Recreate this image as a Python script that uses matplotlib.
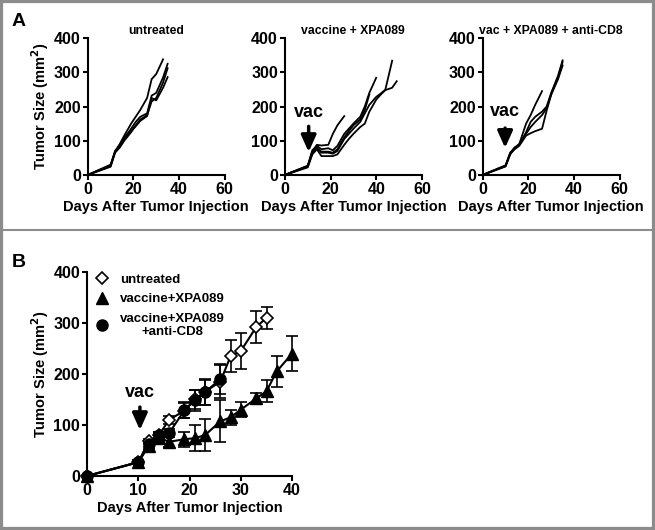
"""Tumor growth curves: individual mice (A) and group means (B)."""

import matplotlib
matplotlib.use("Agg")
import matplotlib.pyplot as plt
from matplotlib.lines import Line2D
from matplotlib.patches import Rectangle

plt.rcParams["font.family"] = ["Liberation Sans", "DejaVu Sans"]
plt.rcParams["font.weight"] = "bold"
plt.rcParams["axes.labelweight"] = "bold"
plt.rcParams["mathtext.default"] = "bf"

# ---- panel A: individual mice ----
days_33 = [0, 10, 12, 14, 16, 19, 21, 23, 26, 28, 30, 33]
days_35 = [0, 10, 12, 14, 16, 19, 21, 23, 26, 28, 30, 33, 35]
days_26 = [0, 10, 12, 14, 16, 19, 21, 23, 26]
days_37 = [0, 10, 12, 14, 16, 19, 21, 23, 26, 28, 30, 33, 35, 37]
days_40 = [0, 10, 12, 14, 16, 19, 21, 23, 26, 28, 30, 33, 35, 37, 40]
days_47 = [0, 10, 12, 14, 16, 19, 21, 23, 26, 28, 30, 33, 35, 37, 40, 42, 44, 47]
days_49 = [0, 10, 12, 14, 16, 19, 21, 23, 26, 28, 30, 33, 35, 37, 40, 42, 44, 47, 49]

untreated_m1 = [0, 25, 70, 90, 115, 150, 170, 190, 225, 280, 295, 338]
untreated_m2 = [0, 28, 68, 85, 108, 135, 155, 170, 180, 232, 240, 285, 325]
untreated_m3 = [0, 24, 65, 80, 100, 125, 145, 162, 175, 215, 225, 270, 312]
untreated_m4 = [0, 30, 70, 82, 105, 128, 142, 158, 172, 225, 218, 255, 286]

vacxpa_m1 = [0, 25, 68, 88, 86, 88, 120, 145, 172]
vacxpa_m2 = [0, 27, 72, 85, 75, 78, 72, 85, 120, 135, 150, 170, 200, 240, 284]
vacxpa_m3 = [0, 24, 65, 80, 65, 65, 62, 70, 105, 120, 135, 155, 180, 205, 228, 238, 249, 334]
vacxpa_m4 = [0, 22, 60, 75, 55, 55, 55, 60, 88, 105, 120, 140, 150, 185, 220, 235, 248, 255, 274]
vacxpa_m5 = [0, 26, 62, 78, 68, 68, 65, 75, 110, 128, 145, 162, 190, 235]

cd8_m1 = [0, 25, 60, 80, 90, 150, 175, 205, 245]
cd8_m2 = [0, 28, 65, 80, 88, 125, 155, 170, 185, 200, 240, 290, 335]
cd8_m3 = [0, 25, 62, 75, 85, 115, 122, 128, 135, 188, 235, 285, 330]
cd8_m4 = [0, 27, 60, 78, 90, 120, 140, 155, 175, 195, 235, 280, 320]

# ---- panel B: group means +/- error ----
untreated_days = [0, 10, 12, 14, 16, 19, 21, 23, 26, 28, 30, 33, 35]
untreated_mean = [0, 27, 68, 80, 110, 128, 150, 165, 185, 235, 245, 292, 310]
untreated_err = [0, 4, 5, 6, 8, 15, 18, 25, 33, 31, 35, 31, 22]

vacxpa_days = [0, 10, 12, 14, 16, 19, 21, 23, 26, 28, 30, 33, 35, 37, 40]
vacxpa_mean = [0, 27, 58, 75, 67, 72, 74, 80, 107, 115, 130, 152, 166, 205, 240]
vacxpa_err = [0, 4, 6, 8, 10, 15, 25, 31, 41, 15, 15, 10, 22, 30, 35]

cd8_days = [0, 10, 12, 14, 16, 19, 21, 23, 26]
cd8_mean = [0, 27, 62, 80, 84, 129, 148, 164, 190]
cd8_err = [0, 4, 6, 6, 8, 15, 20, 25, 30]

BORDER = "#8c8c8c"
TICK_FS = 11.5
LABEL_FS = 10.5


def style_axes(ax):
    for side in ("top", "right"):
        ax.spines[side].set_visible(False)
    for side in ("left", "bottom"):
        ax.spines[side].set_linewidth(1.5)
    ax.tick_params(direction="out", length=3.5, width=1.5, pad=1.5,
                   labelsize=TICK_FS)
    for lbl in ax.get_xticklabels() + ax.get_yticklabels():
        lbl.set_fontweight("bold")


def vac_arrow(ax, x, y_text, y_top, y_tip):
    ax.text(x, y_text, "vac", fontsize=13, fontweight="bold", ha="center", va="center")
    ax.annotate("", xy=(x, y_tip), xytext=(x, y_top),
                arrowprops=dict(arrowstyle="-|>,head_width=0.45,head_length=1.0",
                                lw=2.5, color="black", shrinkA=0, shrinkB=0))


fig = plt.figure(figsize=(6.55, 5.3), dpi=100, facecolor="white")

# panel A axes
a_w, a_h, a_b = 0.209, 0.258, 0.670
axA1 = fig.add_axes([0.134, a_b, a_w, a_h])
axA2 = fig.add_axes([0.435, a_b, a_w, a_h])
axA3 = fig.add_axes([0.737, a_b, a_w, a_h])

panels = [
    (axA1, "untreated", [(days_33, untreated_m1), (days_35, untreated_m2),
                         (days_35, untreated_m3), (days_35, untreated_m4)]),
    (axA2, "vaccine + XPA089", [(days_26, vacxpa_m1), (days_40, vacxpa_m2),
                                (days_47, vacxpa_m3), (days_49, vacxpa_m4),
                                (days_37, vacxpa_m5)]),
    (axA3, "vac + XPA089 + anti-CD8", [(days_26, cd8_m1), (days_35, cd8_m2),
                                       (days_35, cd8_m3), (days_35, cd8_m4)]),
]
for ax, title, curves in panels:
    for d, v in curves:
        ax.plot(d, v, color="black", lw=1.3)
    ax.set_xlim(0, 60)
    ax.set_ylim(0, 400)
    ax.set_xticks([0, 20, 40, 60])
    ax.set_yticks([0, 100, 200, 300, 400])
    ax.set_xlabel("Days After Tumor Injection", fontsize=LABEL_FS, labelpad=2)
    ax.set_title(title, fontsize=8.8, fontweight="bold", pad=3)
    style_axes(ax)

axA1.set_ylabel("Tumor Size (mm$^2$)", fontsize=LABEL_FS, labelpad=2)
vac_arrow(axA2, 10.4, 182, 142, 67)
vac_arrow(axA3, 9.8, 184, 137, 79)

# panel B
axB = fig.add_axes([0.133, 0.102, 0.313, 0.385])
kw = dict(color="black", lw=1.5, elinewidth=1.2, capsize=4, capthick=1.2,
          markersize=8, clip_on=False)
axB.errorbar(untreated_days, untreated_mean, yerr=untreated_err, fmt="-D",
             markerfacecolor="white", markeredgecolor="black",
             markeredgewidth=1.2, **{**kw, "markersize": 6.5})
axB.errorbar(vacxpa_days, vacxpa_mean, yerr=vacxpa_err, fmt="-^",
             markerfacecolor="black", markeredgecolor="black", **kw)
axB.errorbar(cd8_days, cd8_mean, yerr=cd8_err, fmt="-o",
             markerfacecolor="black", markeredgecolor="black", **kw)
axB.set_xlim(0, 40)
axB.set_ylim(0, 400)
axB.set_xticks([0, 10, 20, 30, 40])
axB.set_yticks([0, 100, 200, 300, 400])
axB.set_xlabel("Days After Tumor Injection", fontsize=LABEL_FS, labelpad=2)
axB.set_ylabel("Tumor Size (mm$^2$)", fontsize=LABEL_FS, labelpad=2)
style_axes(axB)
vac_arrow(axB, 10.3, 163, 135, 90)

handles = [
    Line2D([], [], ls="none", marker="D", markersize=6.5, markerfacecolor="white",
           markeredgecolor="black", markeredgewidth=1.2),
    Line2D([], [], ls="none", marker="^", markersize=8, color="black"),
    Line2D([], [], ls="none", marker="o", markersize=8, color="black"),
]
leg = axB.legend(handles, ["untreated", "vaccine+XPA089", "vaccine+XPA089\n+anti-CD8"],
                 loc="upper left", bbox_to_anchor=(0.0, 1.03), frameon=False,
                 fontsize=9.5, handlelength=1.0, handletextpad=0.9,
                 labelspacing=0.55, borderaxespad=0.2)
for t in leg.get_texts():
    t.set_fontweight("bold")
    t.set_multialignment("center")

# panel letters
fig.text(0.018, 0.975, "A", fontsize=14, fontweight="bold", va="top")
fig.text(0.018, 0.52, "B", fontsize=14, fontweight="bold", va="top")

# frame and separator
fig.add_artist(Rectangle((0, 0), 1, 1, transform=fig.transFigure, fill=False,
                         edgecolor=BORDER, lw=4.5))
fig.add_artist(Line2D([0, 1], [0.566, 0.566], transform=fig.transFigure,
                      color=BORDER, lw=1.5))

fig.savefig("out.png", dpi=100, facecolor="white")
